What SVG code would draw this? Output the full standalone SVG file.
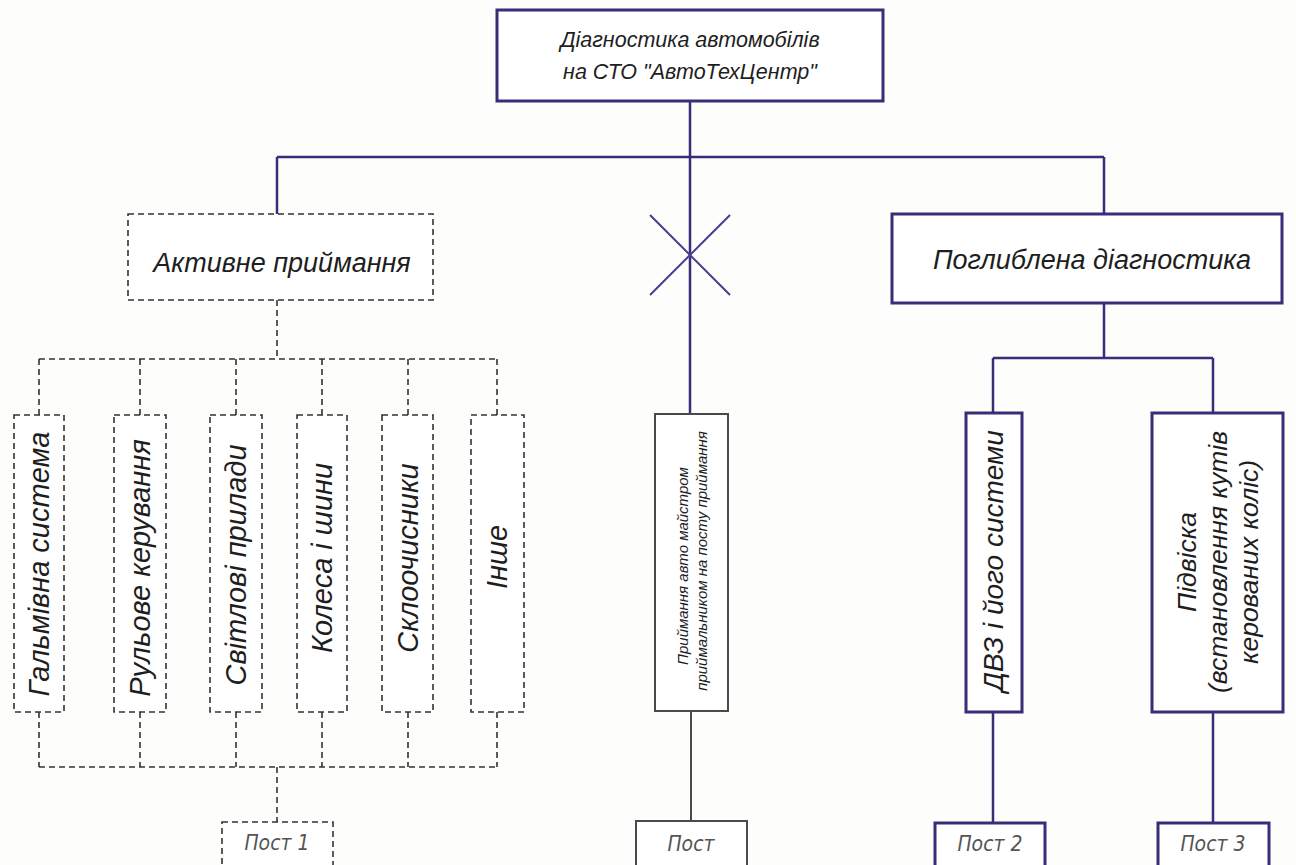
<svg xmlns="http://www.w3.org/2000/svg" width="1296" height="865" viewBox="0 0 1296 865">
<style>
.bg{fill:#fdfdfb}
.solid{fill:#fff;stroke:#372d78;stroke-width:3}
.gray{fill:#fff;stroke:#4a4a4a;stroke-width:2}
.dash{fill:#fff;stroke:#333;stroke-width:1.6;stroke-dasharray:6 4}
.ln{fill:none;stroke:#372d78;stroke-width:2.5}
.lnx{fill:none;stroke:#4c3c94;stroke-width:2}
.lng{fill:none;stroke:#4a4a4a;stroke-width:2}
.lnd{fill:none;stroke:#333;stroke-width:1.6;stroke-dasharray:6 4}
.t{font-family:"Liberation Sans",Arial,sans-serif;font-style:italic;fill:#1e1e1e;text-anchor:middle}
.v{font-size:29px}
.p{font-family:"Liberation Sans Narrow","DejaVu Sans Condensed",sans-serif;font-style:italic;fill:#555;text-anchor:middle;font-size:21px}
</style>
<rect class="bg" x="0" y="0" width="1296" height="865"/>
<g id="connectors">
<path class="ln" d="M690 101V157M277 157H1104M277 157V214M1104 157V214M690 157V414"/>
<path class="lnx" d="M650 215L730 295M730 215L650 295"/>
<path class="lnd" d="M277 300V359M39 359H497M39 359V415M140 359V415M236 359V415M322 359V415M408 359V415M497 359V415"/>
<path class="lnd" d="M39 712V767M140 712V767M236 712V767M322 712V767M408 712V767M497 712V767M39 767H497M277 767V822"/>
<path class="ln" d="M1104 303V358M993 358H1213M993 358V413M1213 358V413M993 712V823M1213 712V823"/>
<path class="lng" d="M691 711V821"/>
</g>
<g id="root">
<rect class="solid" x="497" y="10" width="386" height="91"/>
<text class="t" x="690" y="47" font-size="21.5">Діагностика автомобілів</text>
<text class="t" x="690" y="79" font-size="21.5">на СТО "АвтоТехЦентр"</text>
</g>
<g id="active">
<rect class="dash" x="128" y="214" width="305" height="86"/>
<text class="t" x="282" y="272" font-size="27">Активне приймання</text>
</g>
<g id="deep">
<rect class="solid" x="892" y="214" width="390" height="89"/>
<text class="t" x="1092" y="269" font-size="27">Поглиблена діагностика</text>
</g>
<g id="n1">
<rect class="dash" x="14" y="415" width="50" height="297"/>
<text class="t v" transform="translate(49 564) rotate(-90)">Гальмівна система</text>
</g>
<g id="n2">
<rect class="dash" x="114" y="415" width="52" height="297"/>
<text class="t v" transform="translate(150 568) rotate(-90)">Рульове керування</text>
</g>
<g id="n3">
<rect class="dash" x="210" y="415" width="52" height="297"/>
<text class="t v" transform="translate(246 565) rotate(-90)">Світлові прилади</text>
</g>
<g id="n4">
<rect class="dash" x="297" y="415" width="50" height="297"/>
<text class="t v" transform="translate(332 558) rotate(-90)">Колеса і шини</text>
</g>
<g id="n5">
<rect class="dash" x="382" y="415" width="51" height="297"/>
<text class="t v" transform="translate(418 558) rotate(-90)">Склоочисники</text>
</g>
<g id="n6">
<rect class="dash" x="471" y="415" width="53" height="297"/>
<text class="t v" transform="translate(507 557) rotate(-90)">Інше</text>
</g>
<g id="accept">
<rect class="gray" x="655" y="414" width="73" height="297"/>
<text class="t" font-size="15" transform="translate(688 566) rotate(-90)">Приймання авто майстром</text>
<text class="t" font-size="15" transform="translate(707 561) rotate(-90)">приймальником на посту приймання</text>
</g>
<g id="dvz">
<rect class="solid" x="966" y="413" width="56" height="299"/>
<text class="t" font-size="28" transform="translate(1003 561) rotate(-90)">ДВЗ і його системи</text>
</g>
<g id="susp">
<rect class="solid" x="1152" y="413" width="131" height="299"/>
<text class="t" font-size="26.5" transform="translate(1196 562) rotate(-90)">Підвіска</text>
<text class="t" font-size="26.5" transform="translate(1227 562) rotate(-90)">(встановлення кутів</text>
<text class="t" font-size="26.5" transform="translate(1258 562) rotate(-90)">керованих коліс)</text>
</g>
<g id="post1">
<rect class="dash" x="222" y="822" width="111" height="60"/>
<text class="p" x="277" y="850">Пост 1</text>
</g>
<g id="post0">
<rect class="gray" x="636" y="821" width="111" height="60"/>
<text class="p" x="691" y="851">Пост</text>
</g>
<g id="post2">
<rect class="solid" x="935" y="823" width="110" height="60"/>
<text class="p" x="990" y="851">Пост 2</text>
</g>
<g id="post3">
<rect class="solid" x="1158" y="823" width="111" height="60"/>
<text class="p" x="1213" y="851">Пост 3</text>
</g>
</svg>
